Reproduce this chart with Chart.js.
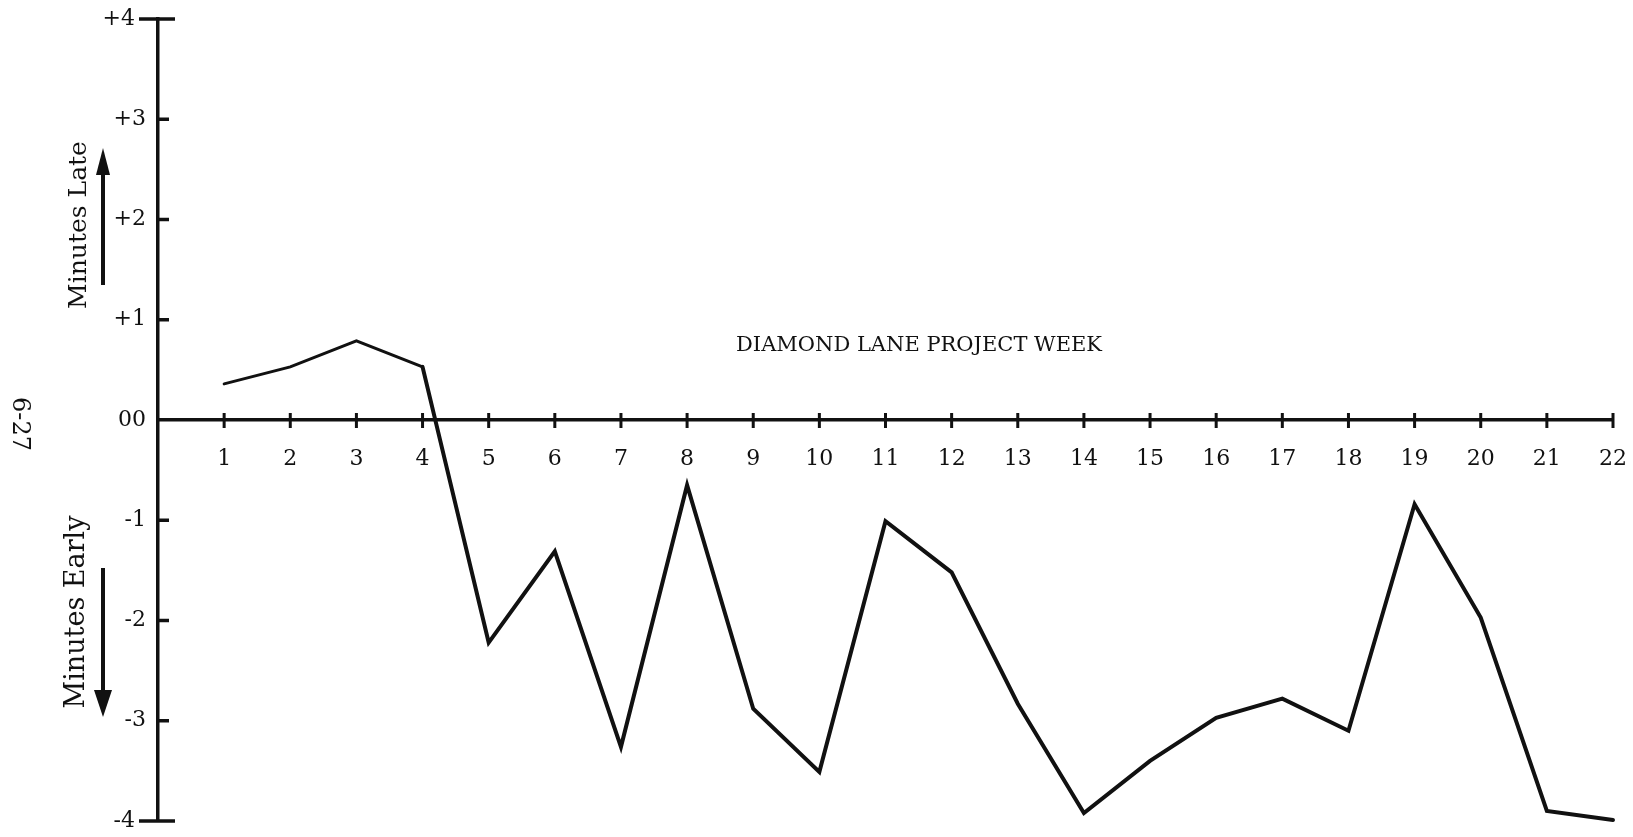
<!DOCTYPE html>
<html>
<head>
<meta charset="utf-8">
<title>Diamond Lane Project Week</title>
<script src="https://cdn.jsdelivr.net/npm/chart.js@4.4.1/dist/chart.umd.min.js"></script>
<style>
    html, body { margin: 0; padding: 0; background: #fff; }
    #wrap { position: relative; width: 1633px; height: 837px; }
</style>
</head>
<body>
<div id="wrap"><canvas id="lateChart"></canvas></div>
<script>
// Minutes late (+) / early (-) per project week
const weeks = [1, 2, 3, 4, 5, 6, 7, 8, 9, 10, 11, 12, 13, 14, 15, 16, 17, 18, 19, 20, 21, 22];
const minutesOff = [0.36, 0.53, 0.79, 0.53, -2.22, -1.31, -3.26, -0.65, -2.88, -3.51, -1.01,
                    -1.52, -2.83, -3.92, -3.40, -2.97, -2.78, -3.10, -0.84, -1.97, -3.90, -3.99];
const yTicks = [4, 3, 2, 1, 0, -1, -2, -3, -4];
const yTickLabels = ['+4', '+3', '+2', '+1', '00', '-1', '-2', '-3', '-4'];
const weekTitle = 'DIAMOND LANE PROJECT WEEK';
const lateText = 'Minutes Late';
const earlyText = 'Minutes Early';
const pageNo = '6-27';

const INK = '#111';
const SERIF = '"DejaVu Serif", "Liberation Serif", serif';

// tick marks that cross the axes, titles and arrows - drawn from the scales
const handAxes = {
    id: 'handAxes',
    afterDraw(chart) {
        const ctx = chart.ctx;
        const x = chart.scales.x;
        const y = chart.scales.y;
        const y0 = y.getPixelForValue(0);
        const left = chart.chartArea.left;

        ctx.save();
        ctx.strokeStyle = INK;
        ctx.fillStyle = INK;
        ctx.lineCap = 'butt';

        // week ticks across the zero line
        ctx.lineWidth = 3;
        weeks.forEach(w => {
            const px = x.getPixelForValue(w);
            ctx.beginPath();
            ctx.moveTo(px, y0 - 7);
            ctx.lineTo(px, y0 + 8);
            ctx.stroke();
        });

        // minute ticks on the right of the y axis, crossbars at the ends
        ctx.lineWidth = 3.5;
        yTicks.forEach(v => {
            if (v === 0) return;
            const py = y.getPixelForValue(v);
            ctx.beginPath();
            if (Math.abs(v) === 4) {
                ctx.moveTo(left - 19, py);
                ctx.lineTo(left + 17, py);
            } else {
                ctx.moveTo(left, py);
                ctx.lineTo(left + 11, py);
            }
            ctx.stroke();
        });

        // title across the plot
        ctx.font = '21px ' + SERIF;
        ctx.textAlign = 'center';
        ctx.textBaseline = 'middle';
        ctx.fillText(weekTitle, 919, 346);

        // side labels, read bottom to top
        ctx.font = '25px ' + SERIF;
        ctx.save();
        ctx.translate(79, 225);
        ctx.rotate(-Math.PI / 2);
        ctx.fillText(lateText, 0, 0);
        ctx.restore();

        ctx.font = '27px ' + SERIF;
        ctx.save();
        ctx.translate(77, 612);
        ctx.rotate(-Math.PI / 2);
        ctx.fillText(earlyText, 0, 0);
        ctx.restore();

        // arrows
        drawArrow(ctx, 103, 285, 148, 7);
        drawArrow(ctx, 103, 568, 717, 9);

        // page number down the margin
        ctx.font = '24px ' + SERIF;
        ctx.save();
        ctx.translate(19, 424);
        ctx.rotate(Math.PI / 2);
        ctx.fillText(pageNo, 0, 0);
        ctx.restore();

        ctx.restore();
    }
};

function drawArrow(ctx, ax, from, tip, half) {
    const dir = tip < from ? -1 : 1;
    const headLen = 27;
    ctx.lineWidth = 4;
    ctx.beginPath();
    ctx.moveTo(ax, from);
    ctx.lineTo(ax, tip - dir * headLen);
    ctx.stroke();
    ctx.beginPath();
    ctx.moveTo(ax, tip);
    ctx.lineTo(ax - half, tip - dir * headLen);
    ctx.lineTo(ax + half, tip - dir * headLen);
    ctx.closePath();
    ctx.fill();
}

new Chart(document.getElementById('lateChart'), {
    type: 'line',
    data: {
        datasets: [{
            label: 'Minutes late / early',
            data: weeks.map((w, i) => ({ x: w, y: minutesOff[i] })),
            borderColor: INK,
            borderWidth: 4,
            borderCapStyle: 'round',
            borderJoinStyle: 'miter',
            pointRadius: 0,
            tension: 0,
            fill: false,
            clip: false,
            segment: {
                borderWidth: c => c.p1DataIndex <= 3 ? 3 : 4
            }
        }]
    },
    options: {
        responsive: true,
        maintainAspectRatio: false,
        animation: false,
        layout: { padding: { left: 0, right: 20, top: 19, bottom: 16 } },
        plugins: {
            legend: { display: false },
            tooltip: { enabled: false }
        },
        scales: {
            x: {
                type: 'linear',
                position: { y: 0 },
                min: 0,
                max: 22,
                // let layout padding alone decide the plot edges
                afterFit: s => { s.paddingLeft = 0; s.paddingRight = 0; },
                grid: { display: false, drawTicks: false },
                border: { display: true, color: INK, width: 3.5 },
                ticks: {
                    stepSize: 1,
                    padding: 26,
                    color: INK,
                    font: { family: SERIF, size: 22 },
                    maxRotation: 0,
                    autoSkip: false,
                    callback: v => weeks.includes(v) ? String(v) : ''
                }
            },
            y: {
                type: 'linear',
                position: 'left',
                min: -4,
                max: 4,
                afterFit: s => { s.width = 158; s.paddingTop = 0; s.paddingBottom = 0; },
                grid: { display: false, drawTicks: false },
                border: { display: true, color: INK, width: 3.5 },
                ticks: {
                    stepSize: 1,
                    padding: 12,
                    color: INK,
                    font: { family: SERIF, size: 22 },
                    callback: v => {
                        const i = yTicks.indexOf(v);
                        if (i < 0) return '';
                        // end labels sit clear of the crossbars
                        return Math.abs(v) === 4 ? yTickLabels[i] + '\u2002' : yTickLabels[i];
                    }
                }
            }
        }
    },
    plugins: [handAxes]
});
</script>
</body>
</html>
